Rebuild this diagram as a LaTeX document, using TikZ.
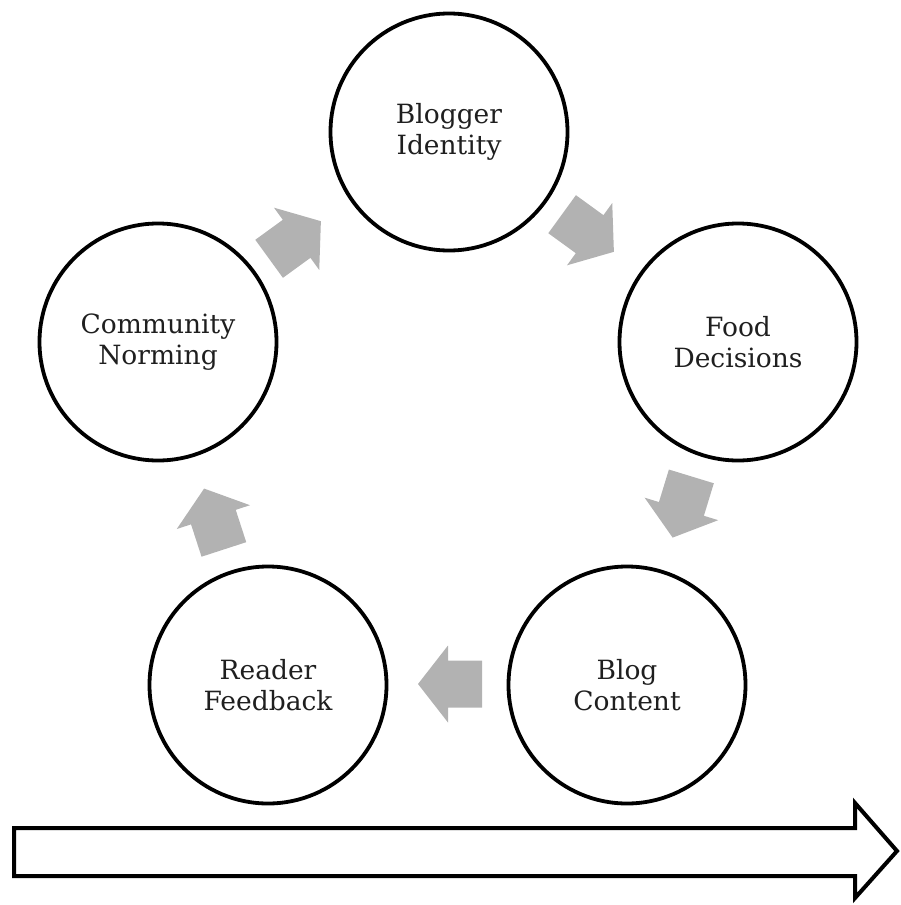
\documentclass[tikz,border=0pt]{standalone}
\usepackage{fontspec}
\setmainfont{DejaVu Serif}
\begin{document}
\begin{tikzpicture}[x=1pt,y=-1pt,
  stage/.style={circle,draw=black,line width=3.8pt,minimum size=237pt,inner sep=0pt,
    align=center,font=\fontsize{26.5}{31}\selectfont,text=black!88},
  flow/.style={fill=black!30,draw=none},
  pics/blockarrow/.style={code={
    \fill[flow] (-32,-23.5) -- (2,-23.5) -- (2,-38.5) -- (32,0) -- (2,38.5) -- (2,23.5) -- (-32,23.5) -- cycle;}}]
\useasboundingbox (0,0) rectangle (900,905);
\node[stage] (bi) at (449,132) {Blogger\\Identity};
\node[stage] (fd) at (738,342) {Food\\Decisions};
\node[stage] (bc) at (627,685) {Blog\\Content};
\node[stage] (rf) at (268,685) {Reader\\Feedback};
\node[stage] (cn) at (158,342) {Community\\Norming};
\pic (a1) [shift={(588,233)},rotate=-36] {blockarrow};
\pic (a2) [shift={(682,507)},rotate=-107] {blockarrow};
\pic (a3) [shift={(450,684)},rotate=180] {blockarrow};
\pic (a4) [shift={(214,519)},rotate=108] {blockarrow};
\pic (a5) [shift={(295,240)},rotate=36] {blockarrow};
\draw[line width=4pt,line join=miter,fill=white] (14,828) -- (855,828) -- (855,803) -- (897,851) -- (855,898) -- (855,876) -- (14,876) -- cycle;
\end{tikzpicture}
\end{document}
